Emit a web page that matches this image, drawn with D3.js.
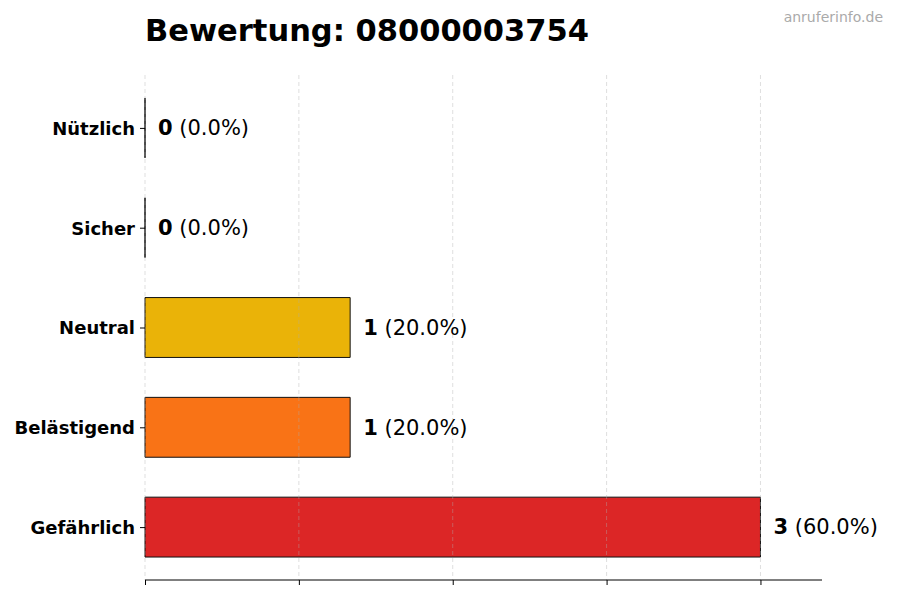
<!DOCTYPE html>
<html><head><meta charset="utf-8">
<script src="https://cdn.jsdelivr.net/npm/d3@7"></script>
<style>body{margin:0;background:#fff;} text{font-family:"DejaVu Sans",sans-serif;}</style>
</head><body><svg id="c" width="900" height="600"></svg>
<script>
const categories = ["Gefährlich","Belästigend","Neutral","Sicher","Nützlich"];
const counts = [3,1,1,0,0];
const percents = ["60.0%","20.0%","20.0%","0.0%","0.0%"];
const colors = ["#dc2626","#f97316","#eab308","#22c55e","#16a34a"];
const xTicks = [0,0.75,1.5,2.25,3];
const title = "Bewertung: 08000003754";
const watermark = "anruferinfo.de";

const svg = d3.select("#c");
const L=145, R=822, T=75, B=580;
const x = d3.scaleLinear().domain([0,3.3]).range([L,R]);
const y = d3.scaleLinear().domain([-0.53,4.53]).range([B,T]);
const bh = y(0)-y(0.6);

// bars (paths so zero-width bars still show their edge)
svg.append("g").selectAll("path").data(categories).join("path")
  .attr("d",(d,i)=>{const x0=x(0),x1=x(counts[i]),y0=y(i)-bh/2;return `M${x0},${y0}H${x1}V${y0+bh}H${x0}Z`;})
  .attr("fill",(d,i)=>colors[i]).attr("stroke","#111").attr("stroke-width",1);

// grid
svg.append("g").selectAll("line").data(xTicks).join("line")
  .attr("x1",d=>x(d)).attr("x2",d=>x(d)).attr("y1",T).attr("y2",B)
  .attr("stroke","#b0b0b0").attr("stroke-opacity",0.5).attr("stroke-dasharray","4,3").attr("stroke-width",0.8);

// x axis
const xa = svg.append("g").attr("transform",`translate(0,${B})`)
  .call(d3.axisBottom(x).tickValues(xTicks).tickFormat("").tickSize(5).tickSizeOuter(0));
xa.select(".domain").attr("stroke","#000").attr("d",`M${L},0H${R}`);
xa.selectAll(".tick line").attr("stroke","#000");

// y axis
const ya = svg.append("g").attr("transform",`translate(${L},0)`)
  .call(d3.axisLeft(y).tickValues(d3.range(categories.length)).tickFormat(i=>categories[i]).tickSize(5));
ya.select(".domain").remove();
ya.selectAll(".tick line").attr("stroke","#000");
ya.selectAll(".tick text").attr("font-size",18).attr("font-weight","bold").attr("fill","#000").attr("x",-10).attr("dy","0.35em")
  .style("font-family","DejaVu Sans");

// value labels
const vl = svg.append("g").selectAll("text").data(categories).join("text")
  .attr("x",(d,i)=>x(counts[i])+13).attr("y",(d,i)=>y(i)).attr("dy","0.35em")
  .attr("font-size",21).attr("fill","#000");
vl.append("tspan").attr("font-weight","bold").text((d,i)=>counts[i]);
vl.append("tspan").text((d,i)=>" ("+percents[i]+")");

svg.append("text").attr("x",L).attr("y",41).attr("font-size",30.5).attr("font-weight","bold").text(title);
svg.append("text").attr("x",883).attr("y",22).attr("text-anchor","end").attr("font-size",14).attr("fill","#aaaaaa").text(watermark);
</script></body></html>
